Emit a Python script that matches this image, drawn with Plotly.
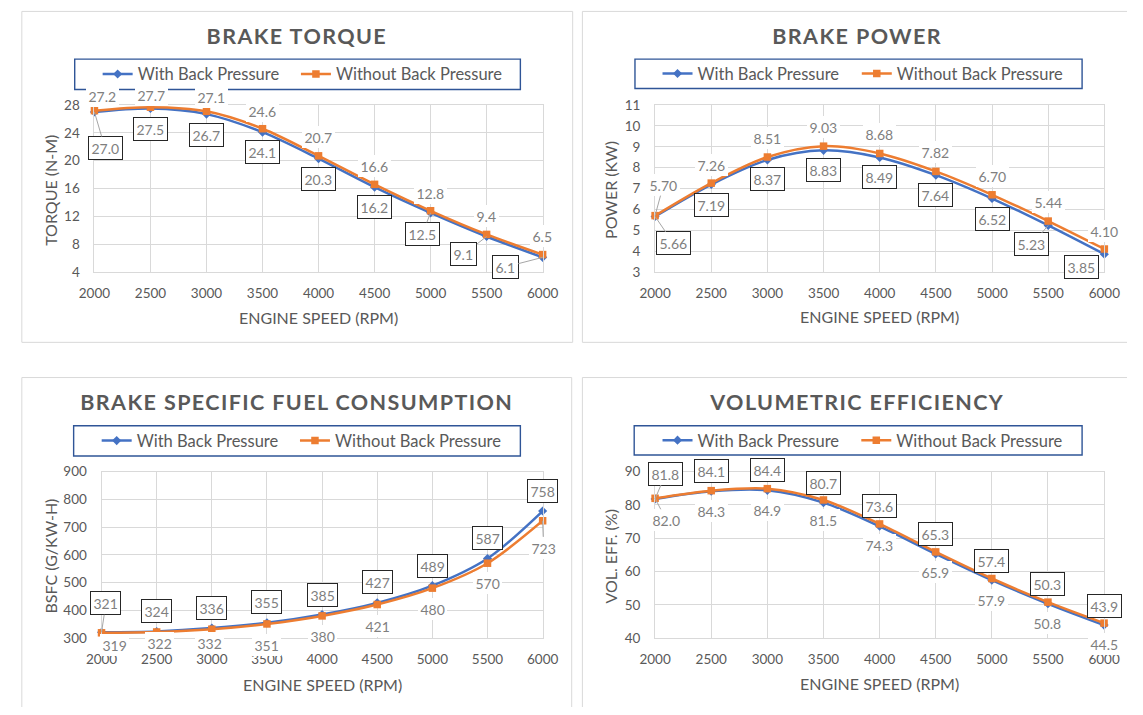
import json
import plotly.graph_objects as go

# ---------------- data ----------------
rpm = [2000, 2500, 3000, 3500, 4000, 4500, 5000, 5500, 6000]

torque_with = [27.0, 27.5, 26.7, 24.1, 20.3, 16.2, 12.5, 9.1, 6.1]
torque_without = [27.2, 27.7, 27.1, 24.6, 20.7, 16.6, 12.8, 9.4, 6.5]

power_with = [5.66, 7.19, 8.37, 8.83, 8.49, 7.64, 6.52, 5.23, 3.85]
power_without = [5.70, 7.26, 8.51, 9.03, 8.68, 7.82, 6.70, 5.44, 4.10]

bsfc_with = [321, 324, 336, 355, 385, 427, 489, 587, 758]
bsfc_without = [319, 322, 332, 351, 380, 421, 480, 570, 723]

ve_with = [81.8, 84.1, 84.4, 80.7, 73.6, 65.3, 57.4, 50.3, 43.9]
ve_without = [82.0, 84.3, 84.9, 81.5, 74.3, 65.9, 57.9, 50.8, 44.5]

series_names = ["With Back Pressure", "Without Back Pressure"]
chart_titles = ["BRAKE TORQUE", "BRAKE POWER", "BRAKE SPECIFIC FUEL CONSUMPTION", "VOLUMETRIC EFFICIENCY"]
y_titles = ["TORQUE (N-M)", "POWER (KW)", "BSFC (G/KW-H)", "VOL. EFF. (%)"]
x_title = "ENGINE SPEED (RPM)"

# ---------------- style ----------------
W, H = 1143, 715
FONT = "Lato, Carlito, Calibri, sans-serif"
TXT = "#595959"
LBL = "#7f7f7f"
GRID = "#d9d9d9"
BLUE = "#4472C4"
ORANGE = "#ED7D31"
LEADER = "#a6a6a6"


def X(p):
    return p / W


def Y(p):
    return 1 - p / H


# label offsets in pixels (dx, dy, leader line)
panels = [
    dict(data=(torque_with, torque_without), fmt="{:.1f}", yrange=[4, 28], dtick=4,
         plot=(80.7, 99.3, 541.8, 270),
         frame=[((6, 3.5), (572.7, 3.5)), ((6, 3.5), (6, 342)), ((572.7, 3.5), (572.7, 342)), ((6, 342), (572.7, 342))],
         lbox=(60.4, 52.3, 518.9, 83.3), title=(289, 29), xt=(311.3, 316.7), yt=(35.3, 186.7),
         leg=(84, 288, 67.8),
         off_with=[(10.6, 36, 1), (0, 20.4, 0), (0, 20.5, 0), (0, 20, 0), (0, 20, 0), (0, 20, 0),
                   (-8.3, 21, 1), (-22.7, 17.6, 1), (-37.4, 9.7, 1)],
         off_without=[(8.4, -15, 0), (1, -12, 0), (5, -14.7, 0), (0, -18, 0), (0, -19, 0), (0, -18, 0),
                      (0, -18, 0), (0, -18, 0), (0, -19, 0)]),
    dict(data=(power_with, power_without), fmt="{:.2f}", yrange=[3, 11], dtick=1,
         plot=(657.5, 99.3, 1119.7, 270),
         frame=[((582.7, 3.5), (1143, 3.5)), ((582.7, 3.5), (582.7, 342)), ((582.7, 342), (1143, 342))],
         lbox=(636.8, 52.3, 1096.8, 82.3), title=(865.9, 28.3), xt=(888.6, 316), yt=(611.4, 185.8),
         leg=(660, 865, 67.3),
         off_with=[(18.4, 27, 1), (0, 20, 0), (0, 19, 0), (0, 20, 0), (0, 19.6, 0), (0, 20, 0),
                   (0, 20, 0), (-16.5, 19, 1), (-22.9, 13, 0)],
         off_without=[(8.4, -31, 1), (0, -18, 0), (0, -19, 0), (0, -19, 0), (0, -19, 0), (0, -19.5, 0),
                      (0, -19, 0), (0, -19, 0), (0, -18, 0)]),
    dict(data=(bsfc_with, bsfc_without), fmt="{:.0f}", yrange=[300, 900], dtick=100,
         plot=(88, 474.3, 541.8, 644.5),
         frame=[((6, 378), (571.7, 378)), ((6, 378), (6, 715)), ((571.7, 378), (571.7, 715))],
         lbox=(59.3, 427.3, 518.9, 458.3), title=(289, 403.3), xt=(314.9, 691.7), yt=(35.3, 560.8),
         leg=(83, 287, 442.8),
         off_with=[(4.4, -29, 1), (0, -20.7, 0), (0, -20, 0), (0, -21, 0), (0, -20, 0), (0, -20.6, 0),
                   (0, -20, 0), (0, -20, 0), (0, -20, 0)],
         off_without=[(13, 12, 0), (2.6, 10.6, 0), (-2, 13.4, 0), (0, 21, 0), (0, 20.5, 0), (0, 21, 0),
                      (0, 21, 0), (0, 20, 0), (1, 27, 1)]),
    dict(data=(ve_with, ve_without), fmt="{:.1f}", yrange=[40, 90], dtick=10,
         plot=(657.5, 474.3, 1119.4, 644.5),
         frame=[((582.7, 378), (1143, 378)), ((582.7, 378), (582.7, 715))],
         lbox=(636, 427.3, 1096.8, 457.3), title=(865.9, 403.3), xt=(888.6, 690.7), yt=(611.4, 560.8),
         leg=(660, 864.5, 442.3),
         off_with=[(10.6, -25.4, 1), (0, -20, 0), (0, -20, 0), (0, -20, 0), (0, -20, 0), (0, -20, 0),
                   (0, -19, 0), (0, -20, 0), (0, -19, 0)],
         off_without=[(11.3, 22, 1), (0, 20, 0), (0, 21, 0), (0, 20, 0), (0, 21, 0), (0, 20.5, 0),
                      (0, 21, 0), (0, 21, 0), (0, 21, 0)]),
]

fig = go.Figure()
layout = dict(width=W, height=H, margin=dict(l=0, r=0, t=0, b=0), autosize=False,
              paper_bgcolor="white", plot_bgcolor="white",
              font=dict(family=FONT, color=TXT), showlegend=True)
shapes = []
annotations = []

for i, p in enumerate(panels):
    n = i + 1
    xa = "xaxis" if n == 1 else f"xaxis{n}"
    ya = "yaxis" if n == 1 else f"yaxis{n}"
    xr = "x" if n == 1 else f"x{n}"
    yr = "y" if n == 1 else f"y{n}"
    x0, y0, x1, y1 = p["plot"]
    layout[xa] = dict(domain=[X(x0), X(x1)], range=[2000, 6000], tick0=2000, dtick=500,
                      anchor=yr, showgrid=True, gridcolor=GRID, gridwidth=1, zeroline=False,
                      showline=True, linecolor=GRID, linewidth=1, mirror=True, ticks="",
                      tickfont=dict(family=FONT, size=13.5, color=TXT), ticklabelstandoff=9,
                      fixedrange=True)
    layout[ya] = dict(domain=[Y(y1), Y(y0)], range=p["yrange"], dtick=p["dtick"], tick0=0,
                      anchor=xr, showgrid=True, gridcolor=GRID, gridwidth=1, zeroline=False,
                      showline=True, linecolor=GRID, linewidth=1, mirror=True, ticks="",
                      tickfont=dict(family=FONT, size=13.5, color=TXT), ticklabelstandoff=11,
                      fixedrange=True)

    vals_with, vals_without = p["data"]
    lg_a = "legend" if (2 * i + 1) == 1 else f"legend{2 * i + 1}"
    lg_b = f"legend{2 * i + 2}"
    fig.add_trace(go.Scatter(x=rpm, y=vals_with, name=series_names[0], mode="lines+markers",
                             line=dict(color=BLUE, width=2.5, shape="spline", smoothing=0.9),
                             marker=dict(symbol="diamond", size=7, color=BLUE),
                             xaxis=xr, yaxis=yr, legend=lg_a, cliponaxis=False))
    fig.add_trace(go.Scatter(x=rpm, y=vals_without, name=series_names[1], mode="lines+markers",
                             line=dict(color=ORANGE, width=2.5, shape="spline", smoothing=0.9),
                             marker=dict(symbol="square", size=7.5, color=ORANGE),
                             xaxis=xr, yaxis=yr, legend=lg_b, cliponaxis=False))

    lx_a, lx_b, ly = p["leg"]
    for key, lx in ((lg_a, lx_a), (lg_b, lx_b)):
        layout[key] = dict(x=X(lx), y=Y(ly), xanchor="left", yanchor="middle",
                           orientation="h", bgcolor="rgba(0,0,0,0)", borderwidth=0,
                           font=dict(family=FONT, size=16.5, color=TXT), itemwidth=30,
                           itemclick=False, itemdoubleclick=False)

    # frame (visible edges only) and legend box
    for (ax0, ay0), (ax1, ay1) in p["frame"]:
        shapes.append(dict(type="line", xref="paper", yref="paper", x0=X(ax0), x1=X(ax1),
                           y0=Y(ay0), y1=Y(ay1), line=dict(color="#d9d9d9", width=1), layer="below"))
    bx0, by0, bx1, by1 = p["lbox"]
    shapes.append(dict(type="rect", xref="paper", yref="paper", x0=X(bx0), x1=X(bx1),
                       y0=Y(by1), y1=Y(by0), line=dict(color="#2F5597", width=1.4)))

    # titles
    tx, ty = p["title"]
    annotations.append(dict(text=f"<b>{chart_titles[i]}</b>", xref="paper", yref="paper",
                            x=X(tx), y=Y(ty), xanchor="center", yanchor="middle", showarrow=False,
                            font=dict(family=FONT, size=21.5, color=TXT)))
    ax_, ay_ = p["xt"]
    annotations.append(dict(text=x_title, xref="paper", yref="paper", x=X(ax_), y=Y(ay_),
                            xanchor="center", yanchor="middle", showarrow=False,
                            font=dict(family=FONT, size=16, color=TXT)))
    yx_, yy_ = p["yt"]
    annotations.append(dict(text=y_titles[i], xref="paper", yref="paper", x=X(yx_), y=Y(yy_),
                            xanchor="center", yanchor="middle", showarrow=False, textangle=-90,
                            font=dict(family=FONT, size=16, color=TXT)))

    # data labels
    for vals, offs, boxed in ((vals_with, p["off_with"], True), (vals_without, p["off_without"], False)):
        for xv, v, (dx, dy, lead) in zip(rpm, vals, offs):
            annotations.append(dict(
                x=xv, y=v, xref=xr, yref=yr, text=p["fmt"].format(v),
                showarrow=True, ax=dx, ay=dy, arrowhead=0, arrowwidth=1, standoff=0,
                arrowcolor=LEADER if lead else "rgba(0,0,0,0)",
                font=dict(family=FONT, size=14, color=LBL),
                bgcolor="white", bordercolor="#262626" if boxed else "rgba(0,0,0,0)",
                borderwidth=1 if boxed else 0, borderpad=2.5))

layout["shapes"] = shapes
layout["annotations"] = annotations
fig.update_layout(**layout)

post = (
    "document.body.style.margin='0';document.body.style.padding='0';"
    "document.documentElement.style.overflow='hidden';"
    "var T=" + json.dumps(chart_titles) + ";"
    "document.querySelectorAll('text.annotation-text').forEach(function(t){"
    "if(T.indexOf(t.textContent)>=0){t.style.letterSpacing='1.4px';}});"
)
fig.write_html("out.html", config={"displayModeBar": False, "staticPlot": True}, post_script=post)
